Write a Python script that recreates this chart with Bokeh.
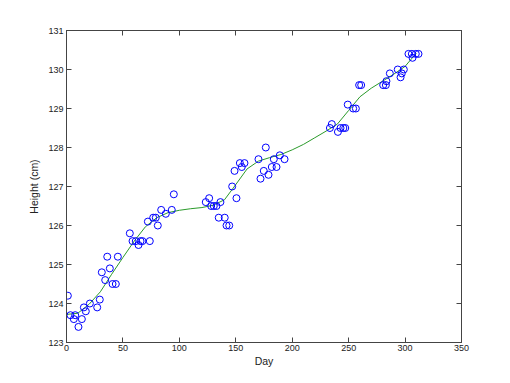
from bokeh.plotting import figure
from bokeh.models import Range1d, LinearAxis, FixedTicker
from bokeh.embed import file_html
from bokeh.resources import INLINE

# measured data points (day, height in cm)
days = [1.2, 3.5, 6.5, 7.7, 10.6, 13.6, 15.4, 17.1, 20.7, 27.2, 29.5, 31.3, 34.3,
        36.1, 38.4, 40.8, 43.7, 45.5, 56.1, 58.5, 61.4, 63.8, 65.6, 67.3, 72.1,
        73.8, 76.8, 79.1, 80.9, 83.9, 88.0, 93.3, 95.1,
        123.4, 126.4, 128.2, 130.5, 132.9, 134.9, 136.4, 140.2, 141.8, 144.2,
        146.8, 148.9, 150.6, 153.6, 155.3, 157.7, 170.1, 171.9, 174.8, 176.6,
        179.0, 181.9, 183.7, 186.1, 189.0, 193.2,
        233.4, 235.1, 240.5, 242.8, 245.3, 247.0, 249.2, 254.0, 256.4, 259.3,
        261.1, 280.6, 283.0, 283.5, 286.5, 293.5, 296.0, 297.1, 298.9, 303.0,
        306.0, 306.6, 309.5, 311.9]
heights = [124.2, 123.7, 123.6, 123.7, 123.4, 123.6, 123.9, 123.8, 124.0, 123.9, 124.1, 124.8, 124.6,
           125.2, 124.9, 124.5, 124.5, 125.2, 125.8, 125.6, 125.6, 125.5, 125.6, 125.6, 126.1,
           125.6, 126.2, 126.2, 126.0, 126.4, 126.3, 126.4, 126.8,
           126.6, 126.7, 126.5, 126.5, 126.5, 126.2, 126.6, 126.2, 126.0, 126.0,
           127.0, 127.4, 126.7, 127.6, 127.5, 127.6, 127.7, 127.2, 127.4, 128.0,
           127.3, 127.5, 127.7, 127.5, 127.8, 127.7,
           128.5, 128.6, 128.4, 128.5, 128.5, 128.5, 129.1, 129.0, 129.0, 129.6,
           129.6, 129.6, 129.6, 129.7, 129.9, 130.0, 129.8, 129.9, 130.0, 130.4,
           130.4, 130.3, 130.4, 130.4]

# fitted smooth curve
fit_days = [0, 10, 20, 30, 40, 50, 60, 70, 80, 90, 100, 110, 120, 130, 140, 150,
            160, 170, 180, 190, 200, 210, 220, 230, 240, 250, 260, 270, 280, 290, 300, 310]
fit_heights = [123.72, 123.75, 123.98, 124.3, 124.75, 125.18, 125.6, 125.97, 126.2, 126.33,
               126.39, 126.43, 126.46, 126.52, 126.66, 127.05, 127.45, 127.65, 127.74, 127.82,
               127.94, 128.08, 128.25, 128.42, 128.6, 128.95, 129.3, 129.52, 129.7, 129.88,
               130.08, 130.42]

x_ticks = [0, 50, 100, 150, 200, 250, 300, 350]
y_ticks = [123, 124, 125, 126, 127, 128, 129, 130, 131]

FONT = "Liberation Sans"
AX = "#444444"

p = figure(width=510, height=383, output_backend="svg", toolbar_location=None,
           x_range=Range1d(0, 350), y_range=Range1d(123, 131),
           min_border_left=66, min_border_right=49, min_border_top=30, min_border_bottom=41)
p.frame_width = 395
p.frame_height = 312
p.xgrid.visible = False
p.ygrid.visible = False
p.outline_line_color = AX
p.background_fill_color = "white"
p.border_fill_color = "white"

p.line(fit_days, fit_heights, line_color="#2a9a2a", line_width=1)
p.scatter(days, heights, marker="circle", size=7, fill_color=None,
          line_color="#0000ff", line_width=1)

def style(ax, ticks, labels=True):
    ax.ticker = FixedTicker(ticks=ticks)
    ax.axis_line_color = AX
    ax.major_tick_line_color = AX
    ax.major_tick_in = 5
    ax.major_tick_out = 0
    ax.minor_tick_line_color = None
    ax.major_label_text_font = FONT
    ax.major_label_text_font_size = "9px"
    ax.major_label_text_color = "#222222"
    ax.major_label_standoff = 3
    ax.axis_label_text_font = FONT
    ax.axis_label_text_font_size = "10.5px"
    ax.axis_label_text_font_style = "normal"
    ax.axis_label_text_color = "#222222"
    if not labels:
        ax.major_label_text_color = None
        ax.major_label_text_font_size = "1px"

style(p.xaxis[0], x_ticks)
style(p.yaxis[0], y_ticks)
p.xaxis[0].axis_label = "Day"
p.xaxis[0].major_label_standoff = 2
p.xaxis[0].axis_label_standoff = 1
p.yaxis[0].axis_label = "Height (cm)"
p.yaxis[0].axis_label_standoff = 5

top = LinearAxis()
right = LinearAxis()
style(top, x_ticks, labels=False)
style(right, y_ticks, labels=False)
p.add_layout(top, "above")
p.add_layout(right, "right")

open("out.html", "w").write(file_html(p, INLINE))
